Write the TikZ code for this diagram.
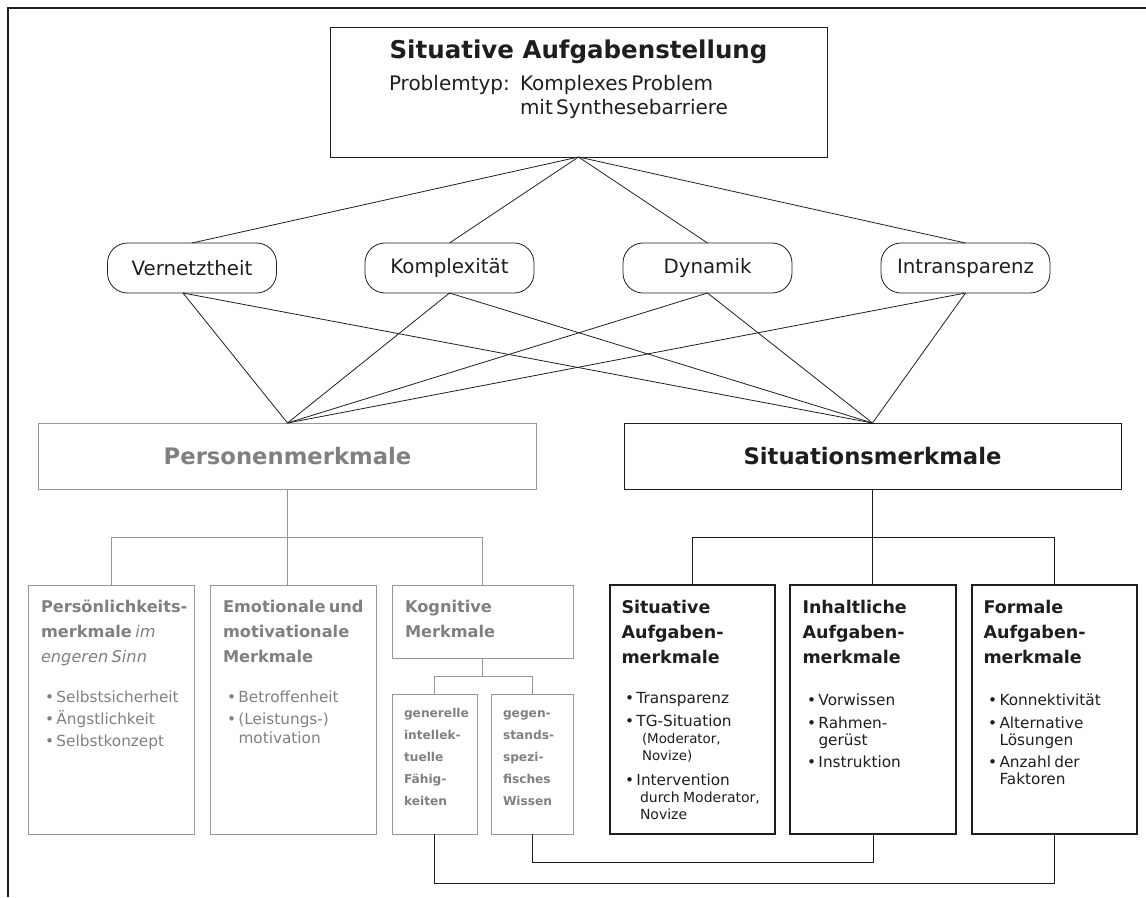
\documentclass[tikz,border=0pt]{standalone}
\usepackage{fontspec}
\setmainfont{DejaVu Sans}
\usetikzlibrary{calc}

\definecolor{ink}{RGB}{30,30,30}
\definecolor{greytext}{RGB}{128,128,128}
\definecolor{greyline}{RGB}{150,150,150}

% size helper and one line of a text block (its skip is the distance to the line above)
\newcommand\fs[2]{\fontsize{#1}{#2}\selectfont}
\newcommand\txl[3]{{\fontsize{#1}{#2}\selectfont #3\par}}
\newcommand\itm{\makebox[11.5pt][l]{•}}
\newcommand\ind[1]{\hspace*{#1pt}}

\begin{document}
\begin{tikzpicture}[x=1pt,y=-1pt,
  every node/.style={inner sep=0pt, outer sep=0pt},
  frame/.style={draw=ink, line width=1.6pt},
  con/.style={draw=ink, line width=0.8pt},
  gcon/.style={draw=greyline, line width=1pt},
  bcon/.style={draw=ink, line width=1pt},
  topbox/.style={draw=ink, line width=1pt, minimum width=497pt, minimum height=130pt},
  oval/.style={draw=ink, line width=0.8pt, rounded corners=20pt, minimum width=169pt,
    minimum height=50pt, font=\fs{19.8}{24}, text=ink},
  head/.style={line width=1pt, minimum width=498pt, minimum height=66pt, font=\fs{22.7}{27}\bfseries},
  gbox/.style={draw=greyline, line width=1pt},
  bbox/.style={draw=ink, line width=1.2pt},
  txt/.style={anchor=base west, align=left, text width=#1},
  txt/.default=170pt,
]
\useasboundingbox (0,0) rectangle (1146,897);

% open frame: top and left edge only
\draw[frame] (1146,8) -- (8,8) -- (8,897);

% problem statement
\node[topbox] (top) at (578.5,92) {};
\node[anchor=base, font=\fs{24.5}{29}\bfseries, text=ink] (title) at (578.5,58) {Situative Aufgabenstellung};
\node[anchor=base west, font=\fs{20}{25}, text=ink] (ptyp) at (389,90) {Problemtyp:};
\node[txt=220pt, text=ink] (pdesc) at (520,90) {\txl{20}{25}{Komplexes Problem}\txl{20}{24}{mit Synthesebarriere}};

% problem characteristics
\node[oval] (vn) at (192,268) {Vernetztheit};
\node[oval] (kx) at (449.5,268) {Komplexität};
\node[oval] (dy) at (707.5,268) {Dynamik};
\node[oval] (it) at (965.5,268) {Intransparenz};

% the two groups of features
\node[head, draw=greyline, text=greytext] (pers) at (287.5,456) {Personenmerkmale};
\node[head, draw=ink, text=ink, minimum width=497pt] (sit) at (872.5,456) {Situationsmerkmale};

% person features
\node[gbox, minimum width=166pt, minimum height=249pt] (pk) at (111,709.5) {};
\node[gbox, minimum width=166pt, minimum height=249pt] (em) at (293,709.5) {};
\node[gbox, minimum width=181pt, minimum height=73pt] (kg) at (482.5,621.5) {};
\node[gbox, minimum width=85pt, minimum height=140pt] (gi) at (434.5,764) {};
\node[gbox, minimum width=82pt, minimum height=140pt] (gw) at (532,764) {};

% situation features
\node[bbox, minimum width=165pt, minimum height=249pt] (sa) at (692.5,709.5) {};
\node[bbox, minimum width=166pt, minimum height=249pt] (ia) at (873,709.5) {};
\node[bbox, minimum width=165pt, minimum height=249pt] (fa) at (1054.5,709.5) {};

% texts of the person boxes
\node[txt, text=greytext] (pkt) at (41,612) {\txl{16.2}{25}{\bfseries Persönlichkeits-}\txl{16.2}{25}{\textbf{merkmale} \textit{im}}\txl{16.2}{25}{\textit{engeren Sinn}}};
\node[txt, text=greytext] (pkb) at (45,702) {\txl{15.3}{22}{\itm Selbstsicherheit}\txl{15.3}{22}{\itm Ängstlichkeit}\txl{15.3}{22}{\itm Selbstkonzept}};
\node[txt, text=greytext] (emt) at (223,612) {\txl{16.2}{25}{\bfseries Emotionale und}\txl{16.2}{25}{\bfseries motivationale}\txl{16.2}{25}{\bfseries Merkmale}};
\node[txt, text=greytext] (emb) at (227,702) {\txl{15.3}{22}{\itm Betroffenheit}\txl{15.3}{22}{\itm (Leistungs-)}\txl{15.3}{19}{\ind{11.5}motivation}};
\node[txt, text=greytext] (kgt) at (405,612) {\txl{16.2}{25}{\bfseries Kognitive}\txl{16.2}{25}{\bfseries Merkmale}};
\node[txt=80pt, text=greytext] (git) at (404,717) {\txl{12.2}{22}{\bfseries generelle}\txl{12.2}{22}{\bfseries intellek-}\txl{12.2}{22}{\bfseries tuelle}\txl{12.2}{22}{\bfseries Fähig-}\txl{12.2}{22}{\bfseries keiten}};
\node[txt=80pt, text=greytext] (gwt) at (503,717) {\txl{12.2}{22}{\bfseries gegen-}\txl{12.2}{22}{\bfseries stands-}\txl{12.2}{22}{\bfseries spezi-}\txl{12.2}{22}{\bfseries fisches}\txl{12.2}{22}{\bfseries Wissen}};

% texts of the situation boxes
\node[txt, text=ink] (sat) at (621.5,613) {\txl{17.5}{25}{\bfseries Situative}\txl{17.5}{25}{\bfseries Aufgaben-}\txl{17.5}{25}{\bfseries merkmale}};
\node[txt, text=ink] (sab) at (625,703) {\txl{15.3}{22}{\itm Transparenz}\txl{15.3}{23}{\itm TG-Situation}\txl{13.4}{17}{\ind{17}(Moderator,}\txl{13.4}{17}{\ind{17}Novize)}\txl{15.3}{25}{\itm Intervention}\txl{14}{17}{\ind{15}durch Moderator,}\txl{14}{17}{\ind{15}Novize}};
\node[txt, text=ink] (iat) at (802.5,613) {\txl{17.5}{25}{\bfseries Inhaltliche}\txl{17.5}{25}{\bfseries Aufgaben-}\txl{17.5}{25}{\bfseries merkmale}};
\node[txt, text=ink] (iab) at (807,705) {\txl{15.3}{22}{\itm Vorwissen}\txl{15.3}{23}{\itm Rahmen-}\txl{15.3}{17}{\ind{11.5}gerüst}\txl{15.3}{22}{\itm Instruktion}};
\node[txt, text=ink] (fat) at (983.5,613) {\txl{17.5}{25}{\bfseries Formale}\txl{17.5}{25}{\bfseries Aufgaben-}\txl{17.5}{25}{\bfseries merkmale}};
\node[txt, text=ink] (fab) at (988,705) {\txl{15.3}{22}{\itm Konnektivität}\txl{15.3}{23}{\itm Alternative}\txl{15.3}{17}{\ind{11.5}Lösungen}\txl{15.3}{22}{\itm Anzahl der}\txl{15.3}{17}{\ind{11.5}Faktoren}};

% problem statement to its characteristics
\foreach \o in {vn,kx,dy,it} \draw[con] (top.south) -- (\o.north);
% every characteristic to both groups
\coordinate (vnb) at ($(vn.south)+(-9,0)$);
\foreach \o in {vnb,kx.south,dy.south,it.south} {
  \draw[con] (\o) -- (pers.north);
  \draw[con] (\o) -- (sit.north);
}

% person tree
\draw[gcon] (pers.south) -- (pers.south |- em.north);
\draw[gcon] (pk.north) -- ++(0,-48) -| (kg.north);
\draw[gcon] (kg.south) -- ++(0,18);
\draw[gcon] (gi.north) -- ++(0,-18) -| (gw.north);

% situation tree
\draw[bcon] (sit.south) -- (sit.south |- ia.north);
\draw[bcon] (sa.north) -- ++(0,-48) -| (fa.north);

% links from knowledge boxes to task features
\draw[bcon] (gw.south) -- ++(0,28) -| (ia.south);
\draw[bcon] (gi.south) -- ++(0,49) -| (fa.south);
\end{tikzpicture}
\end{document}
